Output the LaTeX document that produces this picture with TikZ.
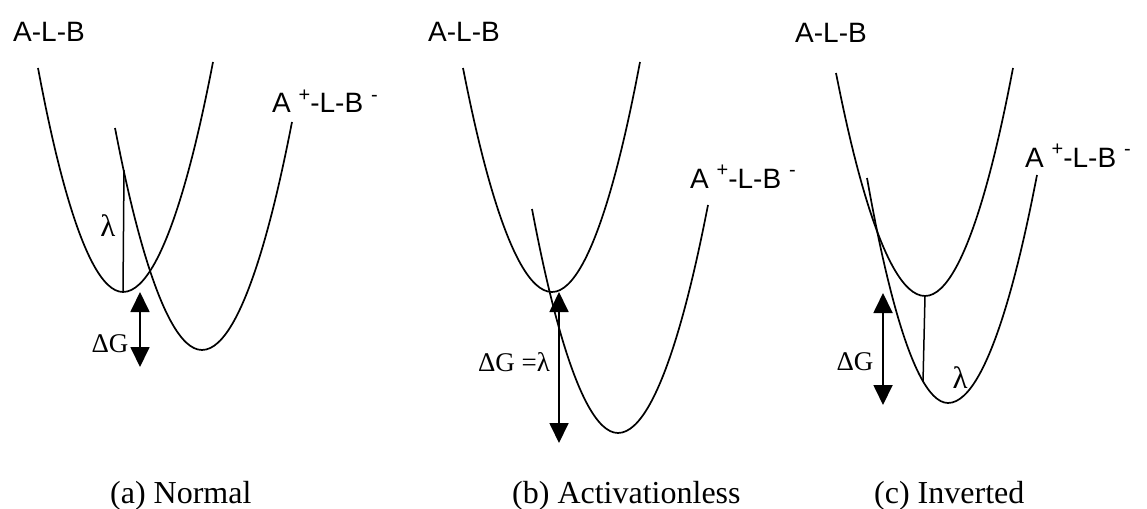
\documentclass[tikz,border=0pt]{standalone}
\usepackage{fontspec}
\setmainfont{Liberation Serif}
\newfontfamily\statefont{Liberation Sans}
\usetikzlibrary{arrows.meta}
\tikzset{
  well/.style={line width=1.7pt},
  gapline/.style={line width=1.5pt},
  energy/.style={{Triangle[width=19pt,length=20pt]}-{Triangle[width=19pt,length=20pt]}, line width=1.8pt},
  state/.style={anchor=base west, inner sep=0pt, font=\statefont\fontsize{28}{30}\selectfont},
  sym/.style={inner sep=0pt, font=\fontsize{27}{30}\selectfont},
  lam/.style={inner sep=0pt, font=\fontsize{31}{34}\selectfont},
  caption/.style={anchor=base west, inner sep=0pt, font=\fontsize{32}{36}\selectfont}
}
\newcommand\chg[1]{\raisebox{0.4em}{\fontsize{20}{20}\selectfont #1}}
\newcommand\ionstate{A \chg{+}-L-B \chg{-}}

\begin{document}
\begin{tikzpicture}[x=1pt, y=-1pt]
  \useasboundingbox (0,0) rectangle (1147,508);

  % (a) normal
  \coordinate (a1l) at (38,68);
  \coordinate (a1m) at (123,292);
  \coordinate (a1r) at (213,62);
  \coordinate (a2l) at (115,128);
  \coordinate (a2m) at (202,350);
  \coordinate (a2r) at (292,122);
  \coordinate (alam) at (124,170);
  \coordinate (atop) at (140,292);
  \coordinate (abot) at (140,367);
  \draw[well] (a1l) parabola bend (a1m) (a1r);
  \draw[well] (a2l) parabola bend (a2m) (a2r);
  \draw[gapline] (a1m) -- (alam);
  \draw[energy] (atop) -- (abot);
  \node[state] (aneutral) at (13,42) {A-L-B};
  \node[state] (aion) at (272,113) {\ionstate};
  \node[lam] (alambda) at (108,226) {λ};
  \node[sym] (adg) at (110,344) {ΔG};
  \node[caption] (acap) at (110,503) {(a) Normal};

  % (b) activationless
  \coordinate (b1l) at (463,68);
  \coordinate (b1m) at (552,292);
  \coordinate (b1r) at (640,62);
  \coordinate (b2l) at (532,209);
  \coordinate (b2m) at (618,433);
  \coordinate (b2r) at (708,205);
  \coordinate (btop) at (559,292);
  \coordinate (bbot) at (559,443);
  \draw[well] (b1l) parabola bend (b1m) (b1r);
  \draw[well] (b2l) parabola bend (b2m) (b2r);
  \draw[energy] (btop) -- (bbot);
  \node[state] (bneutral) at (428,42) {A-L-B};
  \node[state] (bion) at (690,188) {\ionstate};
  \node[sym] (bdg) at (514,362) {ΔG =λ};
  \node[caption] (bcap) at (512,503) {(b) Activationless};

  % (c) inverted
  \coordinate (c1l) at (836,73);
  \coordinate (c1m) at (925,296);
  \coordinate (c1r) at (1013,68);
  \coordinate (c2l) at (867,178);
  \coordinate (c2m) at (948,403);
  \coordinate (c2r) at (1037,175);
  \coordinate (clam) at (923,382);
  \coordinate (ctop) at (883,293);
  \coordinate (cbot) at (883,405);
  \draw[well] (c1l) parabola bend (c1m) (c1r);
  \draw[well] (c2l) parabola bend (c2m) (c2r);
  \draw[gapline] (c1m) -- (clam);
  \draw[energy] (ctop) -- (cbot);
  \node[state] (cneutral) at (795,43) {A-L-B};
  \node[state] (cion) at (1025,167) {\ionstate};
  \node[sym] (cdg) at (855,362) {ΔG};
  \node[lam] (clambda) at (960,378) {λ};
  \node[caption] (ccap) at (874,503) {(c) Inverted};
\end{tikzpicture}
\end{document}
